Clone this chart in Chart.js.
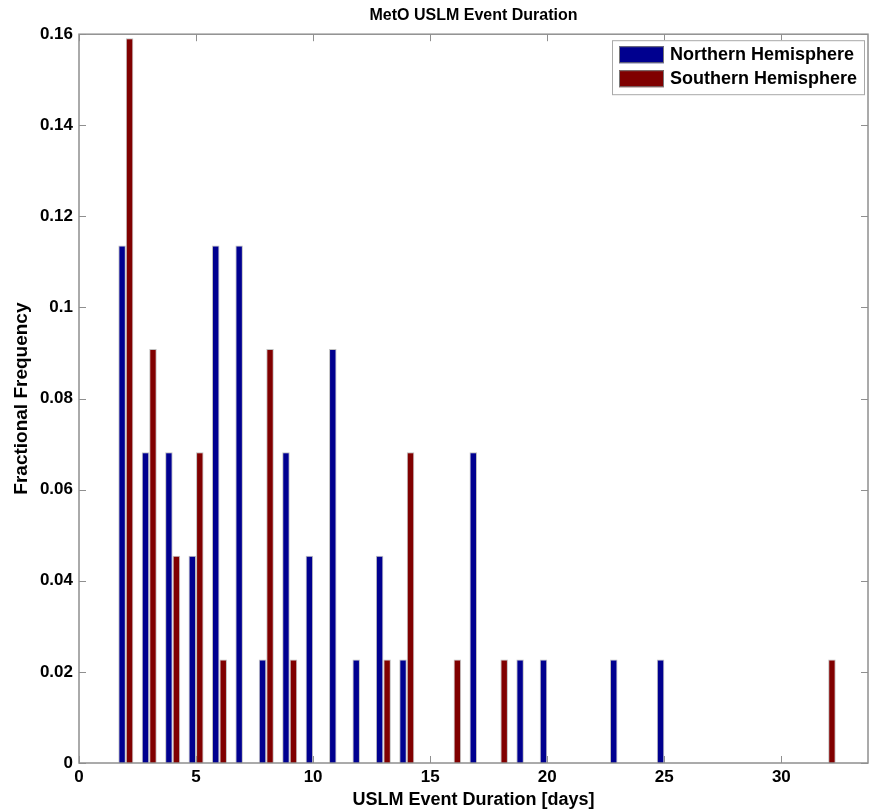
<!DOCTYPE html>
<html>
<head>
<meta charset="utf-8">
<title>MetO USLM Event Duration</title>
<script src="https://cdn.jsdelivr.net/npm/chart.js@4.4.1/dist/chart.umd.min.js"></script>
<style>
  html, body { margin: 0; padding: 0; background: #fff; }
  canvas { display: block; }
</style>
</head>
<body>
<canvas id="durationChart" width="871" height="812"></canvas>
<script>
// event duration bins (days) and fractional frequency per hemisphere
const durationDays = [1, 2, 3, 4, 5, 6, 7, 8, 9, 10, 11, 12, 13, 14, 15, 16,
                      17, 18, 19, 20, 21, 22, 23, 24, 25, 26, 27, 28, 29, 30, 31, 32];
const northernFreq = [0, 0.1136, 0.0682, 0.0682, 0.0455, 0.1136, 0.1136, 0.0227,
                      0.0682, 0.0455, 0.0909, 0.0227, 0.0455, 0.0227, 0, 0,
                      0.0682, 0, 0.0227, 0.0227, 0, 0, 0.0227, 0,
                      0.0227, 0, 0, 0, 0, 0, 0, 0];
const southernFreq = [0, 0.1591, 0.0909, 0.0455, 0.0682, 0.0227, 0, 0.0909,
                      0.0227, 0, 0, 0, 0.0227, 0.0682, 0, 0.0227,
                      0, 0.0227, 0, 0, 0, 0, 0, 0,
                      0, 0, 0, 0, 0, 0, 0, 0.0227];
const seriesNames = ['Northern Hemisphere', 'Southern Hemisphere'];
const xTickValues = [0, 5, 10, 15, 20, 25, 30];

const FONT = 'Liberation Sans, Arial, Helvetica, sans-serif';
const AXIS_GREY = '#8f8f8f';

function toPoints(values) {
    return durationDays.map((d, i) => ({ x: d, y: values[i] }));
}

// box round the plot, inward tick marks on all four sides, legend inside the axes
const matlabAxes = {
    id: 'matlabAxes',
    afterDatasetsDraw(chart) {
        const { ctx, chartArea: a, scales: { x, y } } = chart;
        const tl = 7;
        ctx.save();
        ctx.strokeStyle = AXIS_GREY;
        ctx.lineWidth = 1.5;
        ctx.strokeRect(a.left, a.top, a.right - a.left, a.bottom - a.top);
        ctx.beginPath();
        x.ticks.forEach(t => {
            const px = Math.round(x.getPixelForValue(t.value)) + 0.5;
            ctx.moveTo(px, a.bottom); ctx.lineTo(px, a.bottom - tl);
            ctx.moveTo(px, a.top); ctx.lineTo(px, a.top + tl);
        });
        y.ticks.forEach(t => {
            const py = Math.round(y.getPixelForValue(t.value)) + 0.5;
            ctx.moveTo(a.left, py); ctx.lineTo(a.left + tl, py);
            ctx.moveTo(a.right, py); ctx.lineTo(a.right - tl, py);
        });
        ctx.lineWidth = 1;
        ctx.stroke();

        // legend
        const bx = a.right - 256, by = a.top + 6, bw = 252, bh = 54;
        ctx.fillStyle = '#fff';
        ctx.fillRect(bx, by, bw, bh);
        ctx.strokeStyle = '#a8a8a8';
        ctx.lineWidth = 1;
        ctx.strokeRect(bx + 0.5, by + 0.5, bw, bh);
        ctx.font = 'bold 18px ' + FONT;
        ctx.textBaseline = 'middle';
        chart.data.datasets.forEach((ds, i) => {
            const sy = by + 6 + i * 24;
            ctx.fillStyle = ds.backgroundColor;
            ctx.fillRect(bx + 7, sy, 45, 17);
            ctx.strokeStyle = '#777';
            ctx.strokeRect(bx + 7.5, sy + 0.5, 44, 16);
            ctx.fillStyle = '#000';
            ctx.fillText(ds.label, bx + 58, sy + 9);
        });
        ctx.restore();
    }
};

new Chart(document.getElementById('durationChart'), {
    type: 'bar',
    data: {
        datasets: [
            {
                label: seriesNames[0],
                data: toPoints(northernFreq),
                backgroundColor: 'rgb(0,0,143)',
                borderColor: 'rgba(140,140,140,0.55)',
                borderWidth: 1
            },
            {
                label: seriesNames[1],
                data: toPoints(southernFreq),
                backgroundColor: 'rgb(128,0,0)',
                borderColor: 'rgba(140,140,140,0.55)',
                borderWidth: 1
            }
        ]
    },
    options: {
        responsive: false,
        devicePixelRatio: 1,
        animation: false,
        categoryPercentage: 0.64,
        barPercentage: 1.0,
        layout: { padding: { right: 3 } },
        plugins: {
            legend: { display: false },
            tooltip: { enabled: false },
            title: {
                display: true,
                text: 'MetO USLM Event Duration',
                fullSize: false,
                color: '#000',
                font: { family: FONT, size: 16, weight: 'bold' },
                padding: { top: 6, bottom: 9 }
            }
        },
        scales: {
            x: {
                type: 'linear',
                min: 0,
                max: 33.7,
                offset: false,
                grid: { display: false, drawTicks: false },
                border: { display: false },
                afterBuildTicks: (scale) => {
                    scale.ticks = xTickValues.map(v => ({ value: v }));
                },
                ticks: {
                    color: '#000',
                    padding: 4,
                    maxRotation: 0,
                    font: { family: FONT, size: 17, weight: 'bold' }
                },
                title: {
                    display: true,
                    text: 'USLM Event Duration [days]',
                    color: '#000',
                    font: { family: FONT, size: 18, weight: 'bold' },
                    padding: { top: 0, bottom: 1 }
                },
                afterFit: (scale) => { scale.height = 49; }
            },
            y: {
                min: 0,
                max: 0.16,
                grid: { display: false, drawTicks: false },
                border: { display: false },
                ticks: {
                    stepSize: 0.02,
                    color: '#000',
                    padding: 6,
                    font: { family: FONT, size: 17, weight: 'bold' },
                    callback: (v) => String(parseFloat(v.toFixed(2)))
                },
                title: {
                    display: true,
                    text: 'Fractional Frequency',
                    color: '#000',
                    font: { family: FONT, size: 19, weight: 'bold' },
                    padding: { top: 10, bottom: 0 }
                },
                afterFit: (scale) => { scale.width = 79; }
            }
        }
    },
    plugins: [matlabAxes]
});
</script>
</body>
</html>
